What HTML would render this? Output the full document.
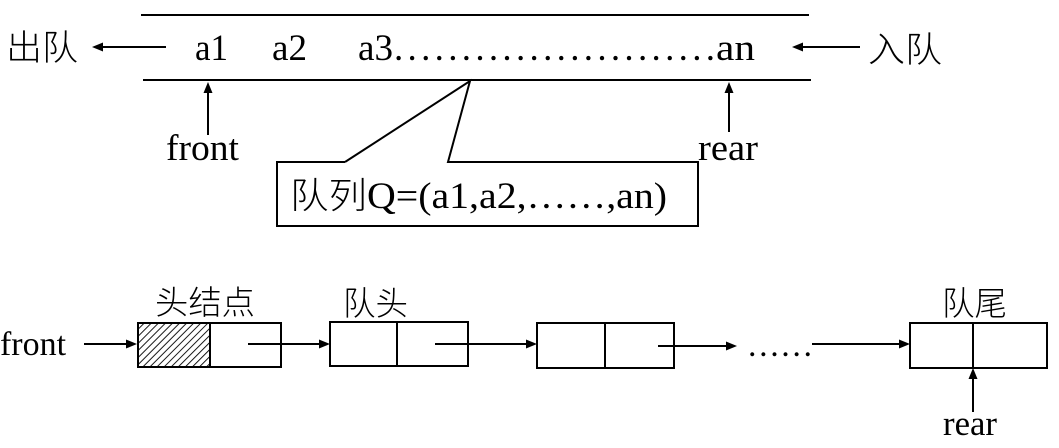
<!DOCTYPE html>
<html><head><meta charset="utf-8">
<style>
html,body{margin:0;padding:0;background:#fff;}
svg{display:block;}
.s{font-family:"Liberation Serif","Noto Serif CJK SC",serif;fill:#000;}
.c{font-family:"Liberation Sans","Noto Sans CJK SC",sans-serif;fill:#000;font-weight:300;}
</style></head>
<body>
<svg width="1059" height="448" viewBox="0 0 1059 448" xmlns="http://www.w3.org/2000/svg">
<defs>
<pattern id="h" patternUnits="userSpaceOnUse" width="5" height="5" patternTransform="rotate(45)">
<line x1="0" y1="0" x2="0" y2="5" stroke="#000" stroke-width="1.8"/>
</pattern>
</defs>
<g stroke="#000" stroke-width="2" fill="none">
<line x1="141" y1="15" x2="809" y2="15"/>
<line x1="143" y1="80" x2="811" y2="80"/>
<line x1="100" y1="47" x2="166" y2="47"/>
<line x1="800" y1="47" x2="860" y2="47"/>
<line x1="208" y1="92" x2="208" y2="135"/>
<line x1="729" y1="92" x2="729" y2="132"/>
<polyline points="345,162 470,81 448,162 698,162 698,226 277,226 277,162 345,162"/>
<line x1="84" y1="344" x2="128" y2="344"/>
<line x1="248" y1="344" x2="322" y2="344"/>
<line x1="435" y1="344" x2="529" y2="344"/>
<line x1="658" y1="346" x2="729" y2="346"/>
<line x1="812" y1="344" x2="902" y2="344"/>
<line x1="973" y1="377" x2="973" y2="412"/>
</g>
<rect x="138" y="323" width="72" height="44" fill="url(#h)"/>
<g stroke="#000" stroke-width="2" fill="none">
<rect x="138" y="323" width="143" height="44"/>
<line x1="210" y1="323" x2="210" y2="367"/>
<rect x="330" y="322" width="138" height="44"/>
<line x1="397" y1="322" x2="397" y2="366"/>
<rect x="537" y="323" width="137" height="45"/>
<line x1="605" y1="323" x2="605" y2="368"/>
<rect x="910" y="323" width="137" height="45"/>
<line x1="973" y1="323" x2="973" y2="368"/>
</g>
<g fill="#000">
<polygon points="92,47 103,42.5 103,51.5"/>
<polygon points="792,47 803,42.5 803,51.5"/>
<polygon points="208,82 203.5,93 212.5,93"/>
<polygon points="729,82 724.5,93 733.5,93"/>
<polygon points="137,344 126,339.5 126,348.5"/>
<polygon points="330,344 319,339.5 319,348.5"/>
<polygon points="537,344 526,339.5 526,348.5"/>
<polygon points="737,346 726,341.5 726,350.5"/>
<polygon points="910,344 899,339.5 899,348.5"/>
<polygon points="973,368 968.5,379 977.5,379"/>
</g>
<text class="c" x="6" y="60" font-size="35" textLength="72" lengthAdjust="spacingAndGlyphs">出队</text>
<text class="c" x="868" y="62" font-size="35" textLength="74" lengthAdjust="spacingAndGlyphs">入队</text>
<text class="s" x="195" y="60" font-size="37" textLength="33" lengthAdjust="spacingAndGlyphs">a1</text>
<text class="s" x="272" y="60" font-size="37" textLength="35" lengthAdjust="spacingAndGlyphs">a2</text>
<text class="s" x="358" y="60" font-size="37" textLength="35" lengthAdjust="spacingAndGlyphs">a3</text>
<text class="s" x="394" y="60" font-size="37" textLength="321" lengthAdjust="spacing">........................</text>
<text class="s" x="716" y="60" font-size="37" textLength="39" lengthAdjust="spacingAndGlyphs">an</text>
<text class="s" x="166" y="160" font-size="37" textLength="73" lengthAdjust="spacingAndGlyphs">front</text>
<text class="s" x="698" y="160" font-size="37" textLength="60" lengthAdjust="spacingAndGlyphs">rear</text>
<text class="c" x="290" y="208" font-size="36" textLength="77" lengthAdjust="spacingAndGlyphs">队列</text>
<text class="s" x="367" y="208" font-size="37" textLength="300" lengthAdjust="spacingAndGlyphs">Q=(a1,a2,……,an)</text>
<text class="c" x="155" y="314" font-size="33" textLength="100" lengthAdjust="spacingAndGlyphs">头结点</text>
<text class="c" x="343" y="315" font-size="33" textLength="65" lengthAdjust="spacingAndGlyphs">队头</text>
<text class="c" x="942" y="315" font-size="33" textLength="65" lengthAdjust="spacingAndGlyphs">队尾</text>
<text class="s" x="0" y="355" font-size="34" textLength="66" lengthAdjust="spacingAndGlyphs">front</text>
<text class="s" x="748" y="356" font-size="34" textLength="64" lengthAdjust="spacing">......</text>
<text class="s" x="943" y="435" font-size="35" textLength="54" lengthAdjust="spacingAndGlyphs">rear</text>
</svg>
</body></html>
